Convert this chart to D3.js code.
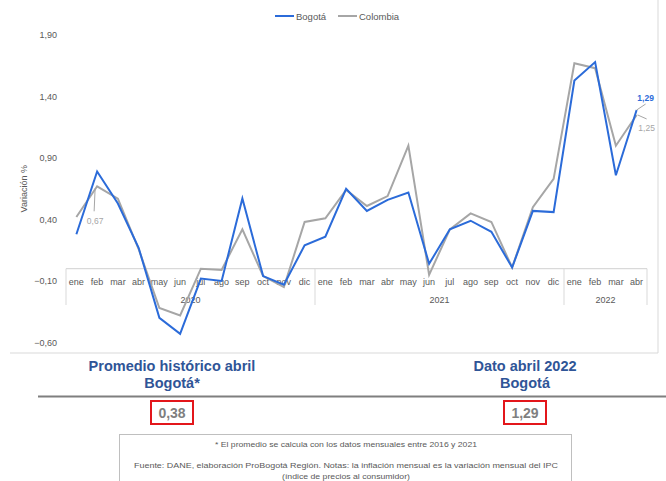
<!DOCTYPE html>
<html>
<head>
<meta charset="utf-8">
<script src="https://cdn.jsdelivr.net/npm/d3@7"></script>
<style>
  body { margin: 0; background: #fff; }
  svg { font-family: 'Liberation Sans', Arial, sans-serif; }
</style>
</head>
<body>
<div id="chart"></div>
<script>
// months from ene 2020 to abr 2022
const months = ['ene','feb','mar','abr','may','jun','jul','ago','sep','oct','nov','dic',
  'ene','feb','mar','abr','may','jun','jul','ago','sep','oct','nov','dic',
  'ene','feb','mar','abr'];
const years = [
  { label: '2020', start: 0, end: 12 },
  { label: '2021', start: 12, end: 24 },
  { label: '2022', start: 24, end: 28 },
];
const bogota = [0.28, 0.79, 0.53, 0.17, -0.40, -0.53, -0.08, -0.10, 0.57, -0.06, -0.13, 0.19,
  0.26, 0.65, 0.47, 0.56, 0.62, 0.04, 0.32, 0.39, 0.30, 0.01, 0.47, 0.46,
  1.53, 1.68, 0.76, 1.29];
const colombia = [0.42, 0.67, 0.57, 0.16, -0.32, -0.38, 0.00, -0.01, 0.32, -0.06, -0.15, 0.38,
  0.41, 0.64, 0.51, 0.59, 1.00, -0.05, 0.32, 0.45, 0.38, 0.01, 0.50, 0.73,
  1.67, 1.63, 1.00, 1.25];
const yTicks = [-0.6, -0.1, 0.4, 0.9, 1.4, 1.9];

const width = 666, height = 481;
const fmt = (v) => d3.format('.2f')(v).replace('.', ',');

const svg = d3.select('#chart').append('svg')
  .attr('width', width).attr('height', height);

// panel border
svg.append('line').attr('x1', 10).attr('x2', 658).attr('y1', 353).attr('y2', 353)
  .attr('stroke', '#d9d9d9');
svg.append('line').attr('x1', 658).attr('x2', 658).attr('y1', 0).attr('y2', 353)
  .attr('stroke', '#d9d9d9');

const xScale = d3.scaleBand().domain(d3.range(months.length)).range([66, 647]);
const yScale = d3.scaleLinear().domain([-0.6, 1.9]).range([342.5, 35]);
const xc = (i) => xScale(i) + xScale.bandwidth() / 2;

// y axis labels
const yAxis = d3.axisLeft(yScale).tickValues(yTicks).tickFormat(fmt).tickSize(0).tickPadding(0);
const gy = svg.append('g').attr('transform', 'translate(57,0)').call(yAxis);
gy.select('.domain').remove();
gy.selectAll('text').attr('fill', '#595959').style('font-size', '9px')
  .style('font-family', "'Liberation Sans', Arial, sans-serif");

svg.append('text')
  .attr('transform', `translate(27,${yScale(0.65)}) rotate(-90)`)
  .attr('text-anchor', 'middle')
  .attr('fill', '#595959').style('font-size', '9px')
  .text('Variación %');

// category axis box
const y0 = yScale(0);
const axisCol = '#d9d9d9';
svg.append('line').attr('x1', 66).attr('x2', 647).attr('y1', y0).attr('y2', y0)
  .attr('stroke', axisCol).attr('stroke-width', 1.2);
const seps = [0, 12, 24, 28].map((i) => i < 28 ? xScale(i) : 647);
svg.selectAll('.sep').data(seps).join('line')
  .attr('x1', (d) => d).attr('x2', (d) => d)
  .attr('y1', y0).attr('y2', 305)
  .attr('stroke', axisCol);

svg.selectAll('.mlab').data(months).join('text')
  .attr('x', (d, i) => xc(i)).attr('y', 284.5)
  .attr('text-anchor', 'middle').attr('fill', '#595959').style('font-size', '9px')
  .text((d) => d);

svg.selectAll('.ylab').data(years).join('text')
  .attr('x', (d) => (xScale(d.start) + (d.end < 28 ? xScale(d.end) : 647)) / 2)
  .attr('y', 303)
  .attr('text-anchor', 'middle').attr('fill', '#595959').style('font-size', '9px')
  .text((d) => d.label);

// lines
const line = d3.line().x((d, i) => xc(i)).y((d) => yScale(d));
svg.append('path').datum(colombia).attr('d', line)
  .attr('fill', 'none').attr('stroke', '#a6a6a6').attr('stroke-width', 2)
  .attr('stroke-linejoin', 'miter');
svg.append('path').datum(bogota).attr('d', line)
  .attr('fill', 'none').attr('stroke', '#2b6bd9').attr('stroke-width', 2)
  .attr('stroke-linejoin', 'miter');

// data labels
const leader = '#a6a6a6';
svg.append('line')
  .attr('x1', xc(1) - 2).attr('y1', yScale(colombia[1]) + 2)
  .attr('x2', xc(1) - 3).attr('y2', yScale(colombia[1]) + 25)
  .attr('stroke', leader);
svg.append('text').attr('x', xc(1) - 2).attr('y', yScale(colombia[1]) + 38)
  .attr('text-anchor', 'middle').attr('fill', '#a6a6a6').style('font-size', '8.5px')
  .text(fmt(colombia[1]));

const last = months.length - 1;
svg.append('line')
  .attr('x1', xc(last)).attr('y1', yScale(bogota[last]))
  .attr('x2', xc(last) + 9).attr('y2', yScale(bogota[last]) - 6)
  .attr('stroke', leader);
svg.append('text').attr('x', xc(last) + 9).attr('y', yScale(bogota[last]) - 9)
  .attr('text-anchor', 'middle').attr('fill', '#2b6bd9').style('font-size', '8.5px')
  .style('font-weight', 'bold')
  .text(fmt(bogota[last]));
svg.append('line')
  .attr('x1', xc(last) + 1).attr('y1', yScale(colombia[last]))
  .attr('x2', xc(last) + 10).attr('y2', yScale(colombia[last]) + 4)
  .attr('stroke', leader);
svg.append('text').attr('x', xc(last) + 10).attr('y', yScale(colombia[last]) + 16)
  .attr('text-anchor', 'middle').attr('fill', '#a6a6a6').style('font-size', '8.5px')
  .text(fmt(colombia[last]));

// legend
const legend = [
  { name: 'Bogotá', color: '#2b6bd9', x: 275 },
  { name: 'Colombia', color: '#a6a6a6', x: 338 },
];
const lg = svg.selectAll('.leg').data(legend).join('g')
  .attr('transform', (d) => `translate(${d.x},16)`);
lg.append('line').attr('x1', 0).attr('x2', 19).attr('stroke', (d) => d.color).attr('stroke-width', 2);
lg.append('text').attr('x', 21).attr('y', 3.5).attr('fill', '#595959').style('font-size', '9.5px')
  .text((d) => d.name);

// summary block
const summary = [
  { lines: ['Promedio histórico abril', 'Bogotá*'], value: 0.38, x: 172 },
  { lines: ['Dato abril 2022', 'Bogotá'], value: 1.29, x: 525 },
];
const sg = svg.selectAll('.sum').data(summary).join('g');
sg.each(function (d) {
  const g = d3.select(this);
  d.lines.forEach((t, i) => {
    g.append('text').attr('x', d.x).attr('y', 371 + i * 17)
      .attr('text-anchor', 'middle').attr('fill', '#2f5597')
      .style('font-size', '14.5px').style('font-weight', 'bold').text(t);
  });
  g.append('rect').attr('x', d.x - 21).attr('y', 401).attr('width', 42).attr('height', 23)
    .attr('fill', 'none').attr('stroke', '#e3161b').attr('stroke-width', 2);
  g.append('text').attr('x', d.x).attr('y', 418)
    .attr('text-anchor', 'middle').attr('fill', '#7f7f7f')
    .style('font-size', '14px').style('font-weight', 'bold').text(fmt(d.value));
});

svg.append('line').attr('x1', 38).attr('x2', 666).attr('y1', 396.5).attr('y2', 396.5)
  .attr('stroke', '#7f7f7f').attr('stroke-width', 2);

// footnote box
svg.append('rect').attr('x', 119.5).attr('y', 434.5).attr('width', 452).attr('height', 60)
  .attr('fill', 'none').attr('stroke', '#bfbfbf');
const notes = [
  { t: '* El promedio se calcula con los datos mensuales entre 2016 y 2021', y: 447, w: 262 },
  { t: 'Fuente: DANE, elaboración ProBogotá Región.  Notas: la inflación mensual es la variación mensual del IPC', y: 468, w: 424 },
  { t: '(índice de precios al consumidor)', y: 479, w: 128 },
];
svg.selectAll('.note').data(notes).join('text')
  .attr('x', 346).attr('y', (d) => d.y)
  .attr('text-anchor', 'middle').attr('fill', '#595959')
  .attr('textLength', (d) => d.w).attr('lengthAdjust', 'spacingAndGlyphs')
  .style('font-size', '8px')
  .text((d) => d.t);
</script>
</body>
</html>
